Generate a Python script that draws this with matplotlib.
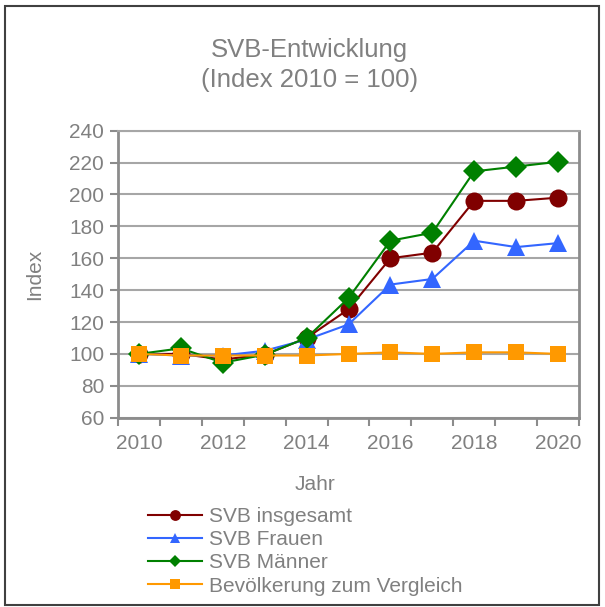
import numpy as np
import matplotlib
matplotlib.use("Agg")
import matplotlib.pyplot as plt
import matplotlib.patches as ppatches

years = [2010, 2011, 2012, 2013, 2014, 2015, 2016, 2017, 2018, 2019, 2020]
svb_gesamt = [100, 100, 96.5, 99.5, 110, 128, 160, 163.5, 196, 196, 198]
svb_frauen = [100, 99, 99, 102, 109, 118.5, 143.5, 147, 171, 167, 169.5]
svb_maenner = [100, 103.5, 94.5, 99.5, 110, 135, 171, 176, 214.5, 217.5, 220.5]
bevoelkerung = [100, 99, 99, 99, 99, 100, 101, 100, 101, 101, 100]

plt.rcParams['font.family'] = ['Liberation Sans', 'DejaVu Sans']
text_color = '#808080'
axis_color = '#8c8c8c'

fig = plt.figure(figsize=(6.05, 6.07), dpi=100)
ax = fig.add_axes([118 / 605, 1 - 417.7 / 607, 461 / 605, 287 / 607])

x = np.arange(len(years))

series = [
    (svb_gesamt, 'SVB insgesamt', '#800000', 'o', 13),
    (svb_frauen, 'SVB Frauen', '#3366ff', '^', 13),
    (svb_maenner, 'SVB Männer', '#008000', 'D', 11),
    (bevoelkerung, 'Bevölkerung zum Vergleich', '#ff9900', 's', 11),
]

for values, label, color, marker, size in series:
    ax.plot(x, values, color=color, marker=marker, markersize=size,
            linewidth=1.5, label=label, markeredgewidth=0)

ax.set_xlim(-0.5, len(years) - 0.5)
ax.set_ylim(60, 240)
ax.set_yticks(np.arange(60, 241, 20))
ax.yaxis.grid(True, color='#a6a6a6', linewidth=1.5)
ax.set_axisbelow(True)

# year labels in the middle of each category, tick marks on the borders
ax.set_xticks(x[::2])
ax.set_xticklabels([str(y) for y in years[::2]])
ax.set_xticks(np.arange(-0.5, len(years)), minor=True)
ax.tick_params(axis='x', which='major', length=0, pad=12)
ax.tick_params(axis='x', which='minor', length=6, width=1.5, color=axis_color, direction='out')
ax.tick_params(axis='y', length=6, width=1.5, color=axis_color, pad=4)
ax.tick_params(labelsize=15, labelcolor=text_color)

for side in ['left', 'bottom', 'right']:
    ax.spines[side].set_color(axis_color)
    ax.spines[side].set_linewidth(2)
ax.spines['top'].set_color('#a6a6a6')
ax.spines['top'].set_linewidth(1.5)

ax.set_ylabel('Index', fontsize=15, color=text_color)
ax.yaxis.set_label_coords(-0.16, 0.5)
ax.set_xlabel('Jahr', fontsize=15, color=text_color)
ax.xaxis.set_label_coords(0.427, -0.2)

fig.text(0.512, 1 - 65 / 607, 'SVB-Entwicklung\n(Index 2010 = 100)',
         ha='center', va='center', fontsize=18.5, color=text_color, linespacing=1.3)

fig.legend(loc='upper left', bbox_to_anchor=(148 / 605, 1 - 507 / 607),
           frameon=False, fontsize=15, labelcolor=text_color, markerscale=0.6,
           handlelength=2.6, handletextpad=0.35, labelspacing=0.2,
           borderpad=0, borderaxespad=0)

# outer frame of the chart
fig.patches.append(ppatches.Rectangle((5 / 605, 2 / 607), 594 / 605, 599 / 607,
                                      transform=fig.transFigure, fill=False,
                                      edgecolor='#404040', linewidth=1.5))

fig.savefig('out.png', dpi=100)
